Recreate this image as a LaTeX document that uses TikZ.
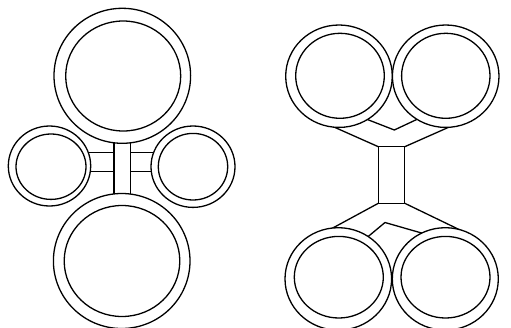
\documentclass[tikz,border=0pt]{standalone}
\begin{document}
\begin{tikzpicture}[x=1pt,y=-1pt,line width=1.3pt,
  outerring/.style={draw=black,fill=white},
  innerring/.style={draw=black},
  bar/.style={draw=black}]
\useasboundingbox (0,0) rectangle (511,327);
% ---------- left diagram: connectors (drawn first, clipped by ring fills)
\draw[bar] (114,130) -- (114,205);
\draw[bar] (130.5,130) -- (130.5,205);
\draw[bar] (80,152.3) -- (114,152.3);
\draw[bar] (80,171.7) -- (114,171.7);
\draw[bar] (130.5,152.3) -- (165,152.3);
\draw[bar] (130.5,171.7) -- (165,171.7);
% rings
\draw[outerring] (122.3,75.8) ellipse [x radius=68.3, y radius=67.5];
\draw[innerring] (123.2,76) ellipse [x radius=57.5, y radius=55];
\draw[outerring] (121.7,261) ellipse [x radius=68.3, y radius=67.5];
\draw[innerring] (122,261) ellipse [x radius=57.8, y radius=55.5];
\draw[outerring] (49.5,166) ellipse [x radius=41.2, y radius=40];
\draw[innerring] (51,166.7) ellipse [x radius=35, y radius=32.7];
\draw[outerring] (193,166.7) ellipse [x radius=42, y radius=40.7];
\draw[innerring] (193,166.7) ellipse [x radius=34.7, y radius=33.3];
% ---------- right diagram: connectors
\draw[bar] (378.3,146.7) rectangle (404.8,203.3);
\draw[bar] (322,121.7) -- (378.3,146.7);
\draw[bar] (461,121.8) -- (404.8,146.7);
\draw[bar] (362,117.4) -- (394.3,130) -- (422,117);
\draw[bar] (325,232.2) -- (378.3,203.3);
\draw[bar] (465.7,232.7) -- (404.8,203.3);
\draw[bar] (364,240) -- (385,222.5) -- (425,234);
% rings
\draw[outerring] (339,76.2) ellipse [x radius=53.3, y radius=51.2];
\draw[innerring] (340,75.8) ellipse [x radius=44.3, y radius=42.5];
\draw[outerring] (445.7,76.2) ellipse [x radius=53.3, y radius=51.2];
\draw[innerring] (445.8,75.8) ellipse [x radius=44.2, y radius=42.5];
\draw[outerring] (338.3,278.9) ellipse [x radius=53.3, y radius=51.2];
\draw[innerring] (338.8,277.2) ellipse [x radius=44.5, y radius=40.8];
\draw[outerring] (445.3,278.9) ellipse [x radius=53, y radius=51.2];
\draw[innerring] (445.5,277.2) ellipse [x radius=44.5, y radius=40.8];
\end{tikzpicture}
\end{document}
